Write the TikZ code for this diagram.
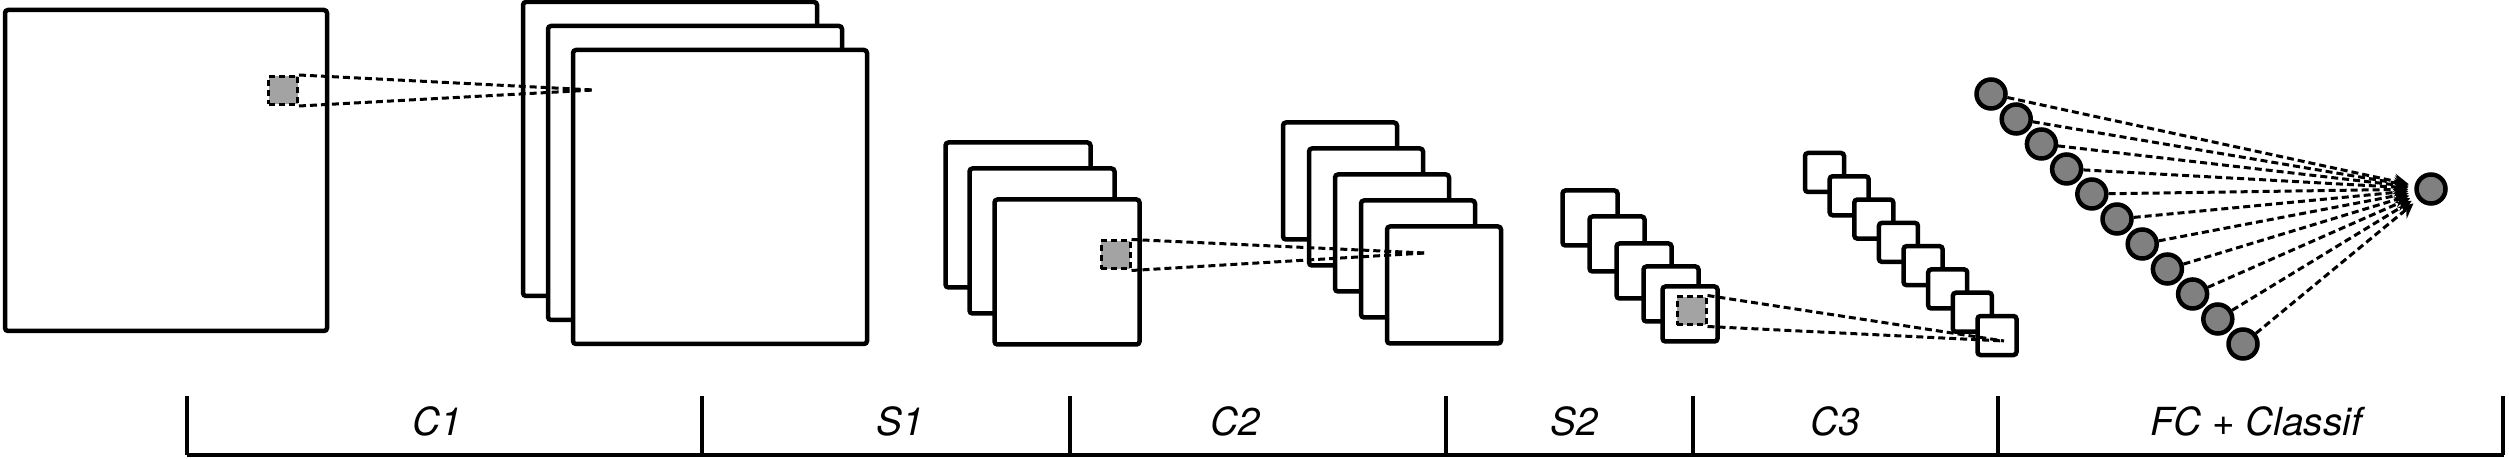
\documentclass[tikz,border=0pt]{standalone}
\usepackage{fontspec}
\setmainfont{TeX Gyre Heros}
\usetikzlibrary{arrows, positioning}

\definecolor{patchgray}{gray}{0.64}
\definecolor{unitgray}{gray}{0.5}

\begin{document}
\begin{tikzpicture}[
  x=0.1mm, y=-0.1mm,
  map/.style={draw, fill=white, line width=0.45mm, rounded corners=0.3mm, inner sep=0pt},
  patch/.style={draw, fill=patchgray, line width=0.3mm, dash pattern=on 0.6mm off 0.4mm,
    minimum width=2.9mm, minimum height=2.8mm, inner sep=0pt},
  link/.style={line width=0.3mm, dash pattern=on 0.7mm off 0.4mm},
  unit/.style={circle, draw, fill=unitgray, line width=0.45mm, minimum size=2.9mm, inner sep=0pt},
  stage/.style={font=\fontsize{11}{13}\selectfont\itshape, anchor=base, inner sep=0pt}]

  \useasboundingbox (0,0) rectangle (2509,459);

  % input image and its receptive field
  \node[map, minimum width=32.2mm, minimum height=32.1mm] (input) at (166,170.5) {};
  \node[patch] (pin) at (283,90.5) {};

  % C1 feature maps
  \foreach \i in {0,1,2}
    \node[map, minimum size=29.4mm] (c1-\i) at ({670+25*\i},{149+24*\i}) {};
  \coordinate (tc1) at (594,90);
  \draw[link] (pin.north east) -- (tc1);
  \draw[link] (pin.south east) -- (tc1);

  % S1 maps
  \foreach \x/\y [count=\i] in {1018/215, 1042/241, 1067/272}
    \node[map, minimum size=14.5mm] (s1-\i) at (\x,\y) {};
  \node[patch] (ps1) at (1115.5,255) {};

  % C2 maps
  \foreach \i in {0,...,4}
    \node[map, minimum width=11.4mm, minimum height=11.7mm] (c2-\i) at ({1340+26*\i},{181+26*\i}) {};
  \coordinate (tc2) at (1425,253);
  \draw[link] (ps1.north east) -- (tc2);
  \draw[link] (ps1.south east) -- (tc2);

  % S2 maps
  \foreach \x/\y [count=\i] in {1590/218, 1617/244, 1644/271, 1671/294, 1690/314}
    \node[map, minimum size=5.5mm] (s2-\i) at (\x,\y) {};
  \node[patch] (ps2) at (1691.5,311) {};

  % C3 maps
  \foreach \i in {0,...,7}
    \node[map, minimum size=3.9mm] (c3-\i) at ({1824.5+24.64*\i},{172.5+23.29*\i}) {};
  \coordinate (tc3) at (2004,341);
  \draw[link] (ps2.north east) -- (tc3);
  \draw[link] (ps2.south east) -- (tc3);

  % fully connected units and output
  \node[unit] (out) at (2431,189) {};
  \foreach \i in {0,...,10}{
    \node[unit] (fc-\i) at ({1991+25.2*\i},{94+25*\i}) {};
    \draw[link, -stealth, shorten >=0.6mm] (fc-\i) -- (out);
  }

  % stage bracket
  \draw[line width=0.45mm] (187,455) -- (2504,455);
  \foreach \x in {187,702,1070,1446,1693,1998,2503}
    \draw[line width=0.35mm] (\x,396) -- (\x,455);

  \node[stage] (lc1) at (437,436) {C1};
  \node[stage] (ls1) at (900,436) {S1};
  \node[stage] (lc2) at (1235,436) {C2};
  \node[stage] (ls2) at (1574,436) {S2};
  \node[stage] (lc3) at (1835,436) {C3};
  \node[stage] (lfc) at (2256,436) {FC + Classif};
\end{tikzpicture}
\end{document}
